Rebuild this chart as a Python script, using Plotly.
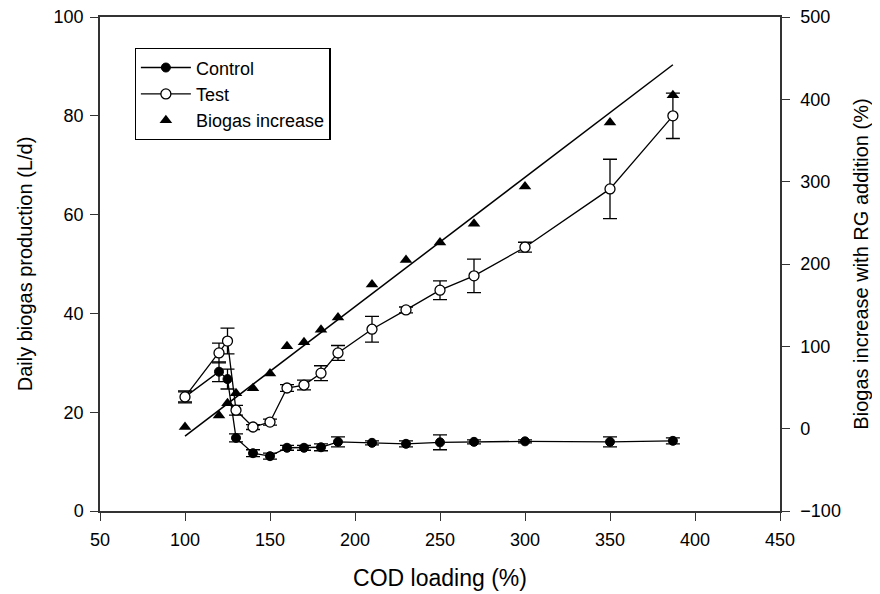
import numpy as np
import plotly.graph_objects as go

# ---- data ----
cod_loading = [100, 120, 125, 130, 140, 150, 160, 170, 180, 190, 210, 230, 250, 270, 300, 350, 387]

control = [23.1, 28.2, 26.7, 14.8, 11.7, 11.1, 12.8, 12.8, 12.9, 14.0, 13.8, 13.6, 13.9, 14.0, 14.1, 14.0, 14.2]
control_err = [1.0, 2.0, 2.0, 0.8, 0.7, 0.6, 0.5, 0.5, 0.7, 1.0, 0.4, 0.6, 1.5, 0.4, 0.3, 1.0, 0.6]

test = [23.1, 32.0, 34.4, 20.4, 17.0, 18.0, 24.9, 25.5, 27.9, 32.0, 36.8, 40.7, 44.7, 47.6, 53.4, 65.2, 80.0]
test_err = [1.2, 2.0, 2.6, 1.0, 0.5, 0.6, 0.7, 1.0, 1.5, 1.5, 2.6, 0.6, 1.9, 3.4, 1.0, 6.0, 4.6]

biogas_increase = [2, 16, 31, 43, 49, 67, 100, 105, 120, 135, 175, 205, 226, 249, 294, 372, 405]

# linear trend of biogas increase (end points)
trend_x = [100, 387]
trend_y = [-9, 442]

FONT = "Liberation Sans, Arial, sans-serif"

fig = go.Figure()

fig.add_trace(go.Scatter(
    x=cod_loading, y=control, name="Control", mode="lines+markers",
    line=dict(color="black", width=1.3),
    marker=dict(symbol="circle", size=9, color="black", line=dict(color="black", width=1)),
    error_y=dict(type="data", array=control_err, visible=True, color="black", thickness=1.3, width=7),
))

fig.add_trace(go.Scatter(
    x=cod_loading, y=test, name="Test", mode="lines+markers",
    line=dict(color="black", width=1.3),
    marker=dict(symbol="circle", size=10, color="white", line=dict(color="black", width=1.3)),
    error_y=dict(type="data", array=test_err, visible=True, color="black", thickness=1.3, width=7),
))

fig.add_trace(go.Scatter(
    x=cod_loading, y=biogas_increase, name="Biogas increase", mode="markers",
    marker=dict(symbol="triangle-up", size=11, color="black"),
    yaxis="y2",
))

fig.add_trace(go.Scatter(
    x=trend_x, y=trend_y, mode="lines", showlegend=False,
    line=dict(color="black", width=1.5), yaxis="y2", hoverinfo="skip",
))

axis_common = dict(
    showline=True, linecolor="#333333", linewidth=1.5,
    ticks="outside", ticklen=8, tickwidth=1.2, tickcolor="#333333",
    showgrid=False, zeroline=False, automargin=False,
    ticklabeloverflow="allow",
    tickfont=dict(family=FONT, size=18, color="black"),
)

# the page adds an 8px body margin, so the figure is sized to compensate
fig.update_layout(
    width=872, height=586,
    paper_bgcolor="white", plot_bgcolor="white",
    margin=dict(l=92, r=100, t=9, b=83),
    font=dict(family=FONT, color="black"),
    xaxis=dict(
        range=[50, 450], tickvals=[50, 100, 150, 200, 250, 300, 350, 400, 450],
        mirror=True, ticklabelstandoff=4,
        title=dict(text="COD loading (%)", font=dict(family=FONT, size=23), standoff=21),
        **axis_common,
    ),
    yaxis=dict(
        range=[0, 100], tickvals=[0, 20, 40, 60, 80, 100],
        ticklabelstandoff=3,
        title=dict(text="Daily biogas production (L/d)", font=dict(family=FONT, size=20), standoff=16),
        **axis_common,
    ),
    yaxis2=dict(
        range=[-100, 500], tickvals=[-100, 0, 100, 200, 300, 400, 500],
        overlaying="y", side="right", ticklabelstandoff=7,
        title=dict(text="Biogas increase with RG addition (%)", font=dict(family=FONT, size=20), standoff=14),
        **axis_common,
    ),
    legend=dict(
        x=0.051, y=0.937, xanchor="left", yanchor="top",
        bordercolor="black", borderwidth=1.2, bgcolor="white",
        font=dict(family=FONT, size=18),
        tracegroupgap=0, itemsizing="trace", itemwidth=50,
    ),
    showlegend=True,
)

fig.write_html("out.html")
